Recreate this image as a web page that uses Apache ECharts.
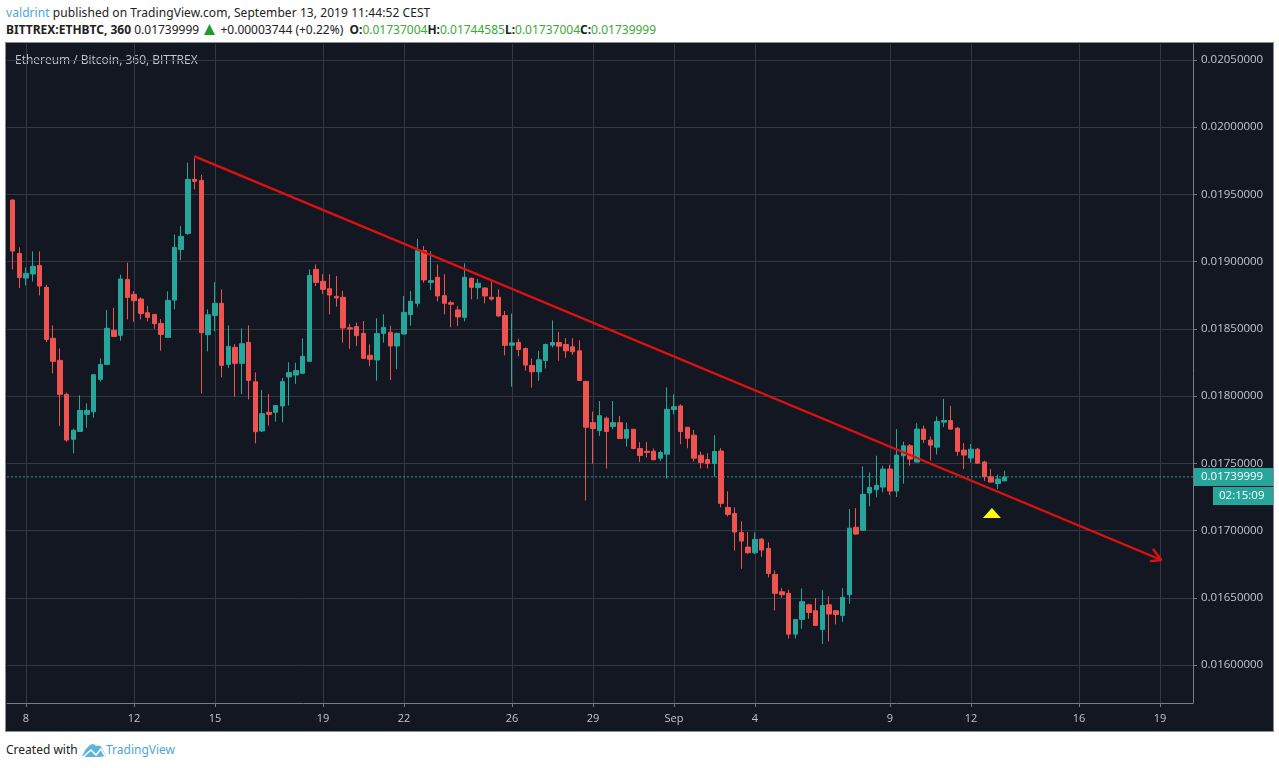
<!DOCTYPE html>
<html>
<head>
<meta charset="utf-8">
<title>ETHBTC 360</title>
<script src="https://cdn.jsdelivr.net/npm/echarts@6/dist/echarts.min.js"></script>
<style>
  html, body { margin: 0; padding: 0; background: #fff; width: 1279px; height: 768px; overflow: hidden; font-family: "Noto Sans", sans-serif; }
  .line { position: absolute; left: 6px; font-size: 12px; line-height: 16px; white-space: nowrap; color: #222; }
  .blue { color: #4ea6d6; }
  .up { color: #3aa935; }
  #frame { position: absolute; left: 6px; top: 43px; width: 1267px; height: 688px; background: #131722; outline: 1px solid #8a8d94; }
  #chart { width: 100%; height: 100%; }
  #logo { position: absolute; left: 82px; top: 743px; }
  #tri { display: inline-block; vertical-align: -1px; margin: 0 2px 0 2px; }
</style>
</head>
<body>
<div class="line" style="top:5px;letter-spacing:0.07px"><span class="blue">valdrint</span> published on TradingView.com, September 13, 2019 11:44:52 CEST</div>
<div class="line" style="top:22px"><b>BITTREX:ETHBTC, 360</b> 0.01739999 <svg id="tri" width="11" height="11" viewBox="0 0 11 11"><path d="M5.5 0 L11 11 L0 11 Z" fill="#1f9d2a"/></svg> +0.00003744 (+0.22%) &nbsp;<b>O:</b><span class="up">0.01737004</span><b>H:</b><span class="up">0.01744585</span><b>L:</b><span class="up">0.01737004</span><b>C:</b><span class="up">0.01739999</span></div>
<div id="frame"><div id="chart"></div></div>
<div class="line" style="top:742px">Created with</div>
<svg id="logo" width="24" height="14" viewBox="0 0 24 14">
  <path d="M0 13 Q4 5 7 3 Q11 -1 14 3 Q19 1 21 7 L24 13 L18 14 L4 14 Z" fill="#5ab4dc"/>
  <path d="M1 14 L9 7 L14 12 L19 6 L23 13" fill="none" stroke="#fff" stroke-width="1.6"/>
</svg>
<div class="line blue" style="top:742px;left:106px">TradingView</div>
<script>
// all prices are in millionths of a BTC
const opens = [19458,19061,18878,18908,18972,18809,18430,18266,18013,17679,17738,17865,17884,18125,18236,18489,18452,18868,18757,18722,18620,18608,18541,18437,18714,19091,19210,19612,19604,18457,18600,18690,18236,18363,18244,18400,18107,17741,17880,17880,17927,18143,18157,18170,18259,18943,18854,18799,18742,18735,18509,18517,18467,18304,18269,18467,18475,18373,18462,18606,18690,19082,18846,18884,18747,18695,18641,18586,18876,18807,18804,18735,18735,18599,18379,18399,18354,18228,18181,18265,18379,18399,18384,18367,18337,18110,17803,17744,17836,17774,17803,17687,17754,17611,17591,17591,17539,17569,17900,17927,17769,17710,17561,17529,17500,17592,17173,17128,16987,16878,16836,16937,16868,16675,16546,16534,16231,16340,16449,16405,16266,16449,16405,16370,16524,17025,17003,17280,17304,17324,17458,17295,17557,17631,17510,17755,17673,17621,17807,17819,17762,17599,17540,17606,17510,17401,17351,17370];
const closes = [19079,18883,18913,18965,18819,18422,18259,18013,17674,17746,17894,17894,18159,18236,18504,18444,18871,18734,18710,18615,18586,18539,18459,18712,19106,19188,19612,19597,18472,18605,18690,18229,18370,18244,18390,18117,17736,17870,17865,17930,18108,18175,18190,18296,18898,18846,18794,18752,18730,18507,18499,18450,18281,18274,18465,18512,18373,18467,18623,18705,19082,18864,18859,18745,18690,18683,18589,18884,18809,18839,18745,18722,18596,18378,18396,18347,18231,18181,18270,18384,18399,18372,18337,18330,18117,17769,17759,17855,17737,17803,17685,17752,17611,17559,17581,17527,17581,17902,17922,17737,17687,17539,17507,17500,17589,17203,17121,16990,16923,16836,16935,16856,16682,16534,16524,16231,16340,16472,16392,16296,16444,16380,16377,16504,17019,16975,17270,17322,17337,17458,17295,17562,17631,17532,17755,17678,17636,17812,17819,17755,17589,17562,17606,17502,17401,17361,17384,17400];
const lows = [18942,18804,18824,18853,18749,18402,18169,17778,17661,17575,17736,17765,17840,18110,18236,18442,18412,18571,18553,18571,18556,18501,18338,18437,18645,19012,19200,19537,18021,18333,18482,18140,18209,17996,18016,17976,17649,17734,17781,17811,17806,17930,18091,18167,18257,18819,18760,18608,18665,18398,18353,18373,18281,18222,18115,18398,18120,18200,18460,18524,18661,18844,18789,18705,18608,18512,18522,18556,18720,18720,18690,18710,18591,18304,18070,18297,18189,18063,18115,18206,18362,18263,18285,18307,18115,17225,17497,17705,17463,17754,17682,17626,17606,17512,17544,17527,17519,17388,17865,17643,17613,17514,17463,17463,17403,17173,17106,16853,16717,16828,16826,16806,16653,16407,16501,16199,16199,16271,16345,16293,16157,16177,16303,16323,16457,16970,17000,17181,17248,17285,17265,17250,17349,17483,17507,17651,17522,17567,17770,17750,17557,17458,17507,17498,17369,17359,17309,17370];
const highs = [19463,19106,18957,19076,19076,18828,18526,18355,18026,17758,18006,17946,18162,18281,18640,18657,18903,18992,18781,18734,18670,18608,18573,18779,19203,19265,19735,19770,19646,18645,18848,18794,18526,18387,18504,18526,18177,18046,18016,17930,18135,18252,18249,18430,18943,18980,18906,18906,18893,18782,18537,18547,18559,18385,18579,18608,18524,18472,18745,18782,19169,19116,19079,18980,18906,18710,18670,18988,18881,18871,18809,18851,18794,18633,18614,18428,18362,18280,18337,18391,18564,18478,18431,18431,18416,18112,17885,17964,17848,17964,17853,17803,17754,17658,17660,17611,17596,18065,18013,17939,17769,17749,17589,17576,17710,17614,17292,17173,17069,16990,16987,16945,16913,16705,16573,16561,16343,16571,16457,16499,16558,16511,16410,16573,17161,17168,17478,17433,17557,17483,17490,17755,17663,17644,17799,17782,17700,17849,17980,17928,17770,17651,17644,17614,17520,17458,17416,17446];

// bar positions of the date labels
const dateTickBars = [2,18,30,46,58,74,86,98,110,130,142,158,170];
const dateTickLabels = ["8","12","15","19","22","26","29","Sep","4","9","12","16","19"];
const priceTicks = [16000,16500,17000,17500,18000,18500,19000,19500,20000,20500];

const firstBar = -0.815;
const lastBar = 174.89;
const lastPrice = 17400;
const trendBars = [26.9,170.2];
const trendPrices = [19785,16782];
const arrowBars = [168.5,170.2,168.96];
const arrowPrices = [16774,16782,16864];
const markerBar = [145.1];
const markerPrice = [17131];

const TEAL = "#26a69a";
const RED = "#ef5350";
const GRID = "#343842";
const AXIS = "#787b86";
const TEXT = "#c3c6cd";
const FONT = '"Open Sans", sans-serif';

const candles = opens.map((o, i) => [i, o, closes[i], lows[i], highs[i]]);
const chart = echarts.init(document.getElementById("chart"));

chart.setOption({
  animation: false,
  grid: { left: 1, right: 80, top: 1, bottom: 28 },
  xAxis: {
    type: "value", min: firstBar, max: lastBar, scale: true,
    axisLine: { show: true, onZero: false, lineStyle: { color: AXIS } },
    axisTick: { show: true, length: 4, lineStyle: { color: AXIS }, customValues: dateTickBars },
    axisLabel: {
      color: TEXT, fontFamily: FONT, fontSize: 11, margin: 10,
      customValues: dateTickBars,
      showMinLabel: true, showMaxLabel: true,
      formatter: (v) => dateTickLabels[dateTickBars.indexOf(v)]
    },
    splitLine: { show: true, lineStyle: { color: GRID } }
  },
  yAxis: {
    type: "value", position: "right", min: 15719, max: 20618, scale: true,
    axisLine: { show: true, onZero: false, lineStyle: { color: AXIS } },
    axisTick: { show: true, length: 4, lineStyle: { color: AXIS }, customValues: priceTicks },
    axisLabel: {
      color: TEXT, fontFamily: FONT, fontSize: 11.5, margin: 8,
      customValues: priceTicks,
      formatter: (v) => (v / 1e6).toFixed(8)
    },
    splitLine: { show: true, lineStyle: { color: GRID } }
  },
  series: [
    {
      type: "line", data: [[firstBar, lastPrice], [lastBar, lastPrice]],
      showSymbol: false, silent: true,
      lineStyle: { color: TEAL, type: [2, 2], width: 1 }, z: 2
    },
    {
      type: "candlestick",
      data: candles,
      encode: { x: 0, y: [1, 2, 3, 4] },
      barWidth: 5,
      itemStyle: { color: TEAL, color0: RED, borderColor: TEAL, borderColor0: RED, borderWidth: 1 },
      z: 3
    },
    {
      type: "line", data: trendBars.map((b, i) => [b, trendPrices[i]]),
      showSymbol: false, silent: true,
      lineStyle: { color: "#dd1111", width: 2.4 }, z: 4
    },
    {
      type: "line", data: arrowBars.map((b, i) => [b, arrowPrices[i]]),
      showSymbol: false, silent: true,
      lineStyle: { color: "#dd1111", width: 2.4 }, z: 4
    },
    {
      type: "scatter", data: markerBar.map((b, i) => [b, markerPrice[i]]),
      symbol: "triangle", symbolSize: [18, 10], silent: true,
      itemStyle: { color: "#ffff00", opacity: 1 }, z: 5
    }
  ],
  graphic: [
    { type: "text", left: 9, top: 12, style: { text: "Ethereum / Bitcoin, 360, BITTREX", fill: TEXT, font: '12px ' + FONT } },
    {
      type: "group", left: 1187, top: 425, children: [
        { type: "rect", shape: { x: 0, y: 0, width: 80, height: 18 }, style: { fill: TEAL } },
        { type: "text", x: 8, y: 3, style: { text: "0.01739999", fill: "#fff", font: '11.5px ' + FONT } }
      ]
    },
    {
      type: "group", left: 1207, top: 444, children: [
        { type: "rect", shape: { x: 0, y: 0, width: 60, height: 18 }, style: { fill: TEAL } },
        { type: "text", x: 6, y: 3, style: { text: "02:15:09", fill: "#fff", font: '11.5px ' + FONT } }
      ]
    }
  ]
});
</script>
</body>
</html>
